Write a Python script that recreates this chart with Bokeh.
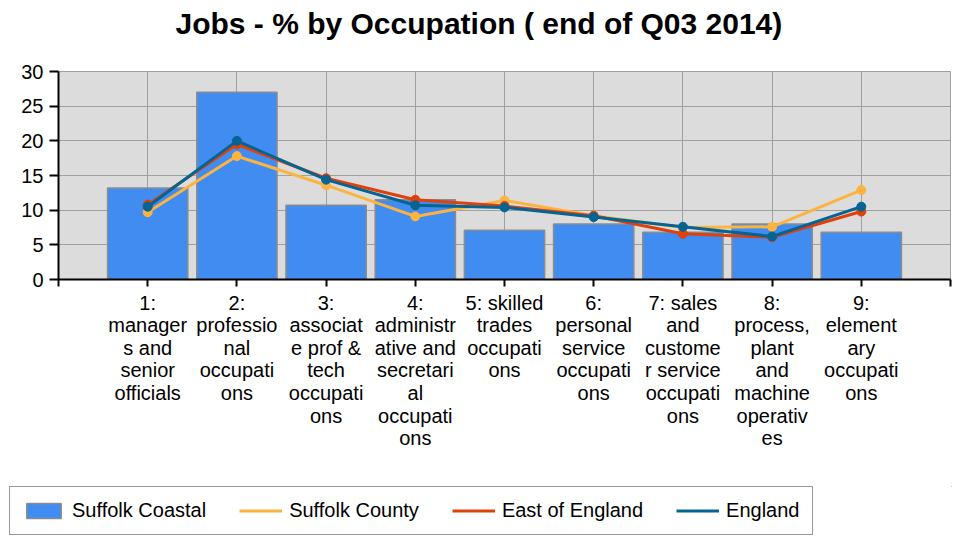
from bokeh.plotting import figure
from bokeh.models import FixedTicker, Legend, LegendItem, Range1d, Title
from bokeh.embed import file_html
from bokeh.resources import INLINE

categories = [
    "1: managers and senior officials",
    "2: professional occupations",
    "3: associate prof & tech occupations",
    "4: administrative and secretarial occupations",
    "5: skilled trades occupations",
    "6: personal service occupations",
    "7: sales and customer service occupations",
    "8: process, plant and machine operatives",
    "9: elementary occupations",
]
tick_labels = [
    "1:\nmanager\ns and\nsenior\nofficials",
    "2:\nprofessio\nnal\noccupati\nons",
    "3:\nassociat\ne prof &\ntech\noccupati\nons",
    "4:\nadministr\native and\nsecretari\nal\noccupati\nons",
    "5: skilled\ntrades\noccupati\nons",
    "6:\npersonal\nservice\noccupati\nons",
    "7: sales\nand\ncustome\nr service\noccupati\nons",
    "8:\nprocess,\nplant\nand\nmachine\noperativ\nes",
    "9:\nelement\nary\noccupati\nons",
]
y_ticks = [0, 5, 10, 15, 20, 25, 30]
suffolk_coastal = [13.2, 27.0, 10.7, 11.5, 7.1, 8.0, 6.8, 8.0, 6.8]
suffolk_county = [9.7, 17.8, 13.6, 9.1, 11.4, 9.2, 7.5, 7.6, 12.9]
east_of_england = [10.8, 19.5, 14.6, 11.5, 10.6, 9.2, 6.6, 6.1, 9.8]
england = [10.5, 20.0, 14.4, 10.7, 10.4, 9.0, 7.6, 6.2, 10.5]

x_idx = list(range(1, len(categories) + 1))
FONT = "Liberation Sans"
BAR_COLOR = "#418CF0"
BAR_LINE = "#8C8C8C"
series = [("Suffolk County", suffolk_county, "#FCB441"),
          ("East of England", east_of_england, "#E0400A"),
          ("England", england, "#056492")]

# ---------------- main chart ----------------
p = figure(width=952, height=486, output_backend="svg", toolbar_location=None,
           title=None,
           x_range=Range1d(0, len(categories) + 1), y_range=Range1d(0, 30),
           min_border_left=58, min_border_right=2, min_border_bottom=207,
           min_border_top=0)
p.background_fill_color = "#DCDCDC"
p.border_fill_color = "white"
p.outline_line_color = "#A0A0A0"
p.outline_line_width = 1

# blank spacer between title and plot frame, then the real title (outermost)
p.add_layout(Title(text=" ", text_font=FONT, text_font_size="10px", standoff=15), "above")
p.add_layout(Title(text="Jobs - % by Occupation ( end of Q03 2014)",
                   text_font=FONT, text_font_size="30px", text_font_style="bold",
                   align="left", offset=117, standoff=8, text_color="black"),
             "above")

p.xaxis.ticker = FixedTicker(ticks=list(range(0, len(categories) + 2)))
overrides = {0: "", len(categories) + 1: ""}
for i, lab in zip(x_idx, tick_labels):
    overrides[i] = lab
p.xaxis.major_label_overrides = overrides
p.xaxis.major_label_text_font = FONT
p.xaxis.major_label_text_font_size = "20px"
p.xaxis.major_label_text_line_height = 1.03
p.xaxis.major_label_text_color = "black"
p.xaxis.major_tick_out = 7
p.xaxis.major_tick_in = 0
p.xaxis.minor_tick_line_color = None
p.xaxis.major_label_standoff = 5
p.xaxis.axis_line_color = "black"
p.xaxis.axis_line_width = 2
p.xaxis.major_tick_line_color = "black"
p.xaxis.major_tick_line_width = 2

p.yaxis.ticker = FixedTicker(ticks=y_ticks)
p.yaxis.major_label_text_font = FONT
p.yaxis.major_label_text_font_size = "20px"
p.yaxis.major_label_text_color = "black"
p.yaxis.major_tick_out = 9
p.yaxis.major_tick_in = 0
p.yaxis.minor_tick_line_color = None
p.yaxis.major_label_standoff = 6
p.yaxis.axis_line_color = "black"
p.yaxis.axis_line_width = 2
p.yaxis.major_tick_line_color = "black"
p.yaxis.major_tick_line_width = 2

p.xgrid.grid_line_color = "#A0A0A0"
p.ygrid.grid_line_color = "#A0A0A0"
p.xgrid.grid_line_width = 1
p.ygrid.grid_line_width = 1

p.vbar(x=x_idx, top=suffolk_coastal, width=0.9, fill_color=BAR_COLOR,
       line_color=BAR_LINE, line_width=1.5)
for name, vals, col in series:
    p.line(x_idx, vals, line_color=col, line_width=3)
    p.scatter(x_idx, vals, size=9, fill_color=col, line_color=col)

# ---------------- legend strip (own root, below the chart) ----------------
# same series drawn with ranges that keep the marks out of view; only the legend shows
lg = figure(width=952, height=50, output_backend="svg", toolbar_location=None,
            x_axis_location=None, y_axis_location=None,
            x_range=Range1d(-100, -99), y_range=Range1d(-100, -99),
            min_border=0)
lg.grid.visible = False
lg.outline_line_color = None
lg.background_fill_color = "white"
lg.border_fill_color = "white"
leg_bar = lg.vbar(x=x_idx, top=suffolk_coastal, width=0.9, fill_color=BAR_COLOR,
                  line_color=BAR_LINE, line_width=1.5)
items = [LegendItem(label="Suffolk Coastal", renderers=[leg_bar])]
for name, vals, col in series:
    r = lg.line(x_idx, vals, line_color=col, line_width=3)
    items.append(LegendItem(label=name, renderers=[r]))

legend = Legend(items=items, orientation="horizontal", location=(9, 1),
                glyph_width=43, glyph_height=19, label_standoff=7, spacing=33,
                padding=12, margin=0,
                label_text_font=FONT, label_text_font_size="20px",
                label_text_color="black",
                border_line_color="#333333", border_line_width=1.5,
                background_fill_color="white", background_fill_alpha=1)
lg.add_layout(legend, "center")

open("out.html", "w").write(file_html([p, lg], INLINE))
